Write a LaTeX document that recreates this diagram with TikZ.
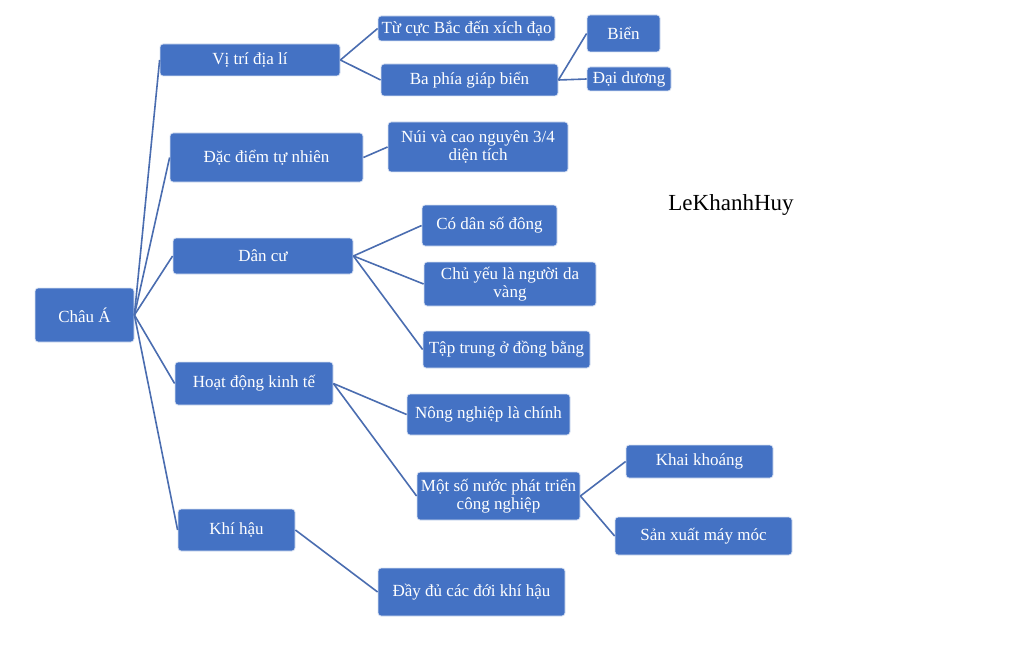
\documentclass[tikz,border=0pt]{standalone}
\usepackage{fontspec}
\setmainfont{Liberation Serif}
\definecolor{boxblue}{HTML}{4472C4}
\definecolor{linkblue}{HTML}{4A6DB0}
\begin{document}
\begin{tikzpicture}[x=1pt,y=-1pt,
  bx/.style={draw=white!80!boxblue, line width=0.8pt, fill=boxblue, rounded corners=3pt,
    text=white, inner sep=0pt, align=center, font=\fontsize{17}{18.5}\selectfont},
  link/.style={draw=linkblue, line width=1.6pt}]
\useasboundingbox (0,0) rectangle (1024,655);
\fill[white] (0,0) rectangle (1024,655);
% level 0
\node[bx, minimum width=99, minimum height=54] (chau) at (84.5,315) {Châu Á};
% level 1
\node[bx, minimum width=180, minimum height=32] (vitri) at (250,60) {Vị trí địa lí};
\node[bx, minimum width=193, minimum height=49] (dacdiem) at (266.5,157.5) {Đặc điểm tự nhiên};
\node[bx, minimum width=180, minimum height=36] (dancu) at (263,256) {Dân cư};
\node[bx, minimum width=158, minimum height=43] (hoatdong) at (254,383.5) {Hoạt động kinh tế};
\node[bx, minimum width=117, minimum height=42] (khihau) at (236.5,530) {Khí hậu};
% level 2
\node[bx, minimum width=177, minimum height=25] (tucuc) at (466.5,28.5) {Từ cực Bắc đến xích đạo};
\node[bx, minimum width=177, minimum height=32] (baphia) at (469.5,80) {Ba phía giáp biển};
\node[bx, minimum width=180, minimum height=50] (nui) at (478,147) {Núi và cao nguyên 3/4\\diện tích};
\node[bx, minimum width=135, minimum height=41] (codan) at (489.5,225.5) {Có dân số đông};
\node[bx, minimum width=172, minimum height=44] (chuyeu) at (510,284) {Chủ yếu là người da\\vàng};
\node[bx, minimum width=167, minimum height=37] (taptrung) at (506.5,349.5) {Tập trung ở đồng bằng};
\node[bx, minimum width=163, minimum height=41] (nongnghiep) at (488.5,414.5) {Nông nghiệp là chính};
\node[bx, minimum width=163, minimum height=48] (motso) at (498.5,496) {Một số nước phát triển\\công nghiệp};
\node[bx, minimum width=187, minimum height=48] (daydu) at (471.5,592) {Đầy đủ các đới khí hậu};
% level 3
\node[bx, minimum width=73, minimum height=37] (bien) at (623.5,33.5) {Biển};
\node[bx, minimum width=84, minimum height=24] (daiduong) at (629,79) {Đại dương};
\node[bx, minimum width=147, minimum height=33] (khai) at (699.5,461.5) {Khai khoáng};
\node[bx, minimum width=177, minimum height=38] (sanxuat) at (703.5,536) {Sản xuất máy móc};
% signature
\node[font=\fontsize{23}{25}\selectfont, text=black, inner sep=0pt] (sig) at (731,205) {LeKhanhHuy};
% connectors
\foreach \c in {vitri,dacdiem,dancu,hoatdong,khihau}
  \draw[link] (chau.east) -- (\c.west);
\draw[link] (vitri.east) -- (tucuc.west);
\draw[link] (vitri.east) -- (baphia.west);
\draw[link] (baphia.east) -- (bien.west);
\draw[link] (baphia.east) -- (daiduong.west);
\draw[link] (dacdiem.east) -- (nui.west);
\draw[link] (dancu.east) -- (codan.west);
\draw[link] (dancu.east) -- (chuyeu.west);
\draw[link] (dancu.east) -- (taptrung.west);
\draw[link] (hoatdong.east) -- (nongnghiep.west);
\draw[link] (hoatdong.east) -- (motso.west);
\draw[link] (motso.east) -- (khai.west);
\draw[link] (motso.east) -- (sanxuat.west);
\draw[link] (khihau.east) -- (daydu.west);
\end{tikzpicture}
\end{document}
